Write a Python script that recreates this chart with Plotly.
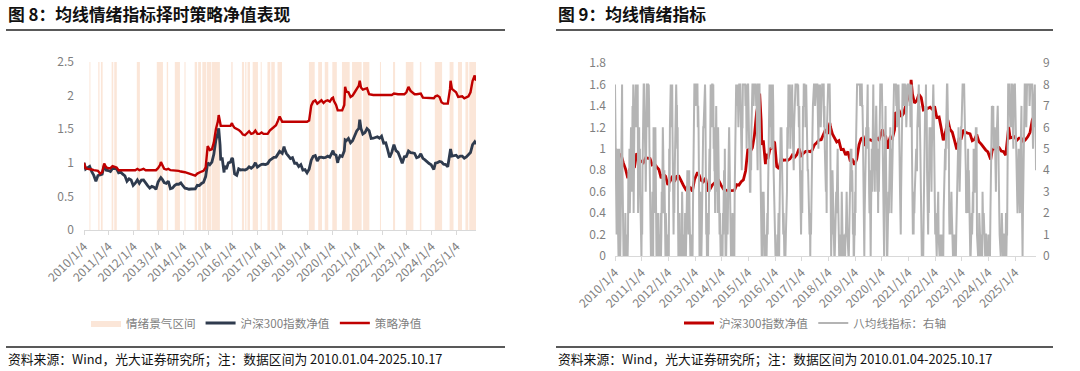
import plotly.graph_objects as go

W, H = 1080, 371
FONT = "Noto Sans CJK SC"
TICK_COLOR = "#7F7F7F"

# ---------------- Data: left chart (monthly readings) ----------------
nav_dates = [
    "2010-01-04", "2010-01-28", "2010-02-28", "2010-03-28", "2010-04-28", "2010-05-28", "2010-06-28",
    "2010-07-28", "2010-08-28", "2010-09-28", "2010-10-28", "2010-11-28", "2010-12-28",
    "2011-01-28", "2011-02-28", "2011-03-28", "2011-04-28", "2011-05-28", "2011-06-28",
    "2011-07-28", "2011-08-28", "2011-09-28", "2011-10-28", "2011-11-28", "2011-12-28",
    "2012-01-28", "2012-02-28", "2012-03-28", "2012-04-28", "2012-05-28", "2012-06-28",
    "2012-07-28", "2012-08-28", "2012-09-28", "2012-10-28", "2012-11-28", "2012-12-28",
    "2013-01-28", "2013-02-08", "2013-02-28", "2013-03-28", "2013-04-28", "2013-05-28", "2013-06-28",
    "2013-07-28", "2013-08-28", "2013-09-28", "2013-10-28", "2013-11-28", "2013-12-28",
    "2014-01-28", "2014-02-28", "2014-03-28", "2014-04-28", "2014-05-28", "2014-06-28",
    "2014-07-28", "2014-08-28", "2014-09-28", "2014-10-28", "2014-11-28", "2014-12-28",
    "2015-01-28", "2015-02-28", "2015-03-28", "2015-04-28", "2015-05-28", "2015-06-08", "2015-06-28",
    "2015-07-08", "2015-07-28", "2015-08-26", "2015-08-31", "2015-09-28", "2015-10-28", "2015-11-28",
    "2015-12-20", "2015-12-31",
    "2016-01-28", "2016-02-28", "2016-03-28", "2016-04-28", "2016-05-28", "2016-06-28",
    "2016-07-28", "2016-08-28", "2016-09-28", "2016-10-28", "2016-11-28", "2016-12-28",
    "2017-01-28", "2017-02-28", "2017-03-28", "2017-04-28", "2017-05-28", "2017-06-28",
    "2017-07-28", "2017-08-28", "2017-09-28", "2017-10-28", "2017-11-20", "2017-12-28",
    "2018-01-24", "2018-01-31", "2018-02-28", "2018-03-28", "2018-04-28", "2018-05-28", "2018-06-28",
    "2018-07-28", "2018-08-28", "2018-09-28", "2018-10-28", "2018-11-28", "2018-12-28",
    "2019-01-28", "2019-02-28", "2019-03-28", "2019-04-28", "2019-05-28", "2019-06-28",
    "2019-07-28", "2019-08-28", "2019-09-28", "2019-10-28", "2019-11-28", "2019-12-28",
    "2020-01-14", "2020-01-28", "2020-02-28", "2020-03-23", "2020-03-31", "2020-04-28", "2020-05-28",
    "2020-06-28", "2020-07-10", "2020-07-28", "2020-08-28", "2020-09-28", "2020-10-28", "2020-11-28",
    "2020-12-28",
    "2021-01-28", "2021-02-10", "2021-02-28", "2021-03-28", "2021-04-28", "2021-05-28", "2021-06-28",
    "2021-07-28", "2021-08-28", "2021-09-28", "2021-10-28", "2021-11-28", "2021-12-28",
    "2022-01-28", "2022-02-28", "2022-03-28", "2022-04-26", "2022-05-28", "2022-06-28",
    "2022-07-28", "2022-08-28", "2022-09-28", "2022-10-28", "2022-11-28", "2022-12-28",
    "2023-01-28", "2023-02-28", "2023-03-28", "2023-04-28", "2023-05-28", "2023-06-28",
    "2023-07-28", "2023-08-28", "2023-09-28", "2023-10-28", "2023-11-28", "2023-12-28",
    "2024-01-28", "2024-02-05", "2024-02-28", "2024-03-28", "2024-04-28", "2024-05-28", "2024-06-28",
    "2024-07-28", "2024-08-28", "2024-09-30", "2024-10-08", "2024-10-28", "2024-11-28", "2024-12-28",
    "2025-01-28", "2025-02-28", "2025-03-28", "2025-04-28", "2025-05-28", "2025-06-28",
    "2025-07-28", "2025-08-28", "2025-09-28", "2025-10-17",
]

hs300_nav = [
    1.000, 0.906, 0.928, 0.946, 0.868, 0.812, 0.725, 0.811, 0.821, 0.830, 0.958, 0.889, 0.885,
    0.870, 0.916, 0.912, 0.909, 0.851, 0.861, 0.831, 0.807, 0.725, 0.762, 0.743, 0.664,
    0.697, 0.745, 0.694, 0.743, 0.745, 0.696, 0.660, 0.623, 0.649, 0.638, 0.605, 0.714,
    0.760, 0.780, 0.756, 0.706, 0.693, 0.728, 0.614, 0.623, 0.661, 0.682, 0.681, 0.700, 0.659,
    0.623, 0.616, 0.607, 0.610, 0.611, 0.612, 0.665, 0.661, 0.693, 0.710, 0.795, 0.999,
    0.971, 1.010, 1.126, 1.343, 1.449, 1.514, 1.265, 1.036, 1.079, 0.856, 0.952, 0.906, 0.999, 1.009,
    1.070, 1.055,
    0.833, 0.814, 0.910, 0.893, 0.897, 0.892, 0.906, 0.941, 0.920, 0.944, 1.001, 0.936,
    0.958, 0.976, 0.978, 0.973, 0.988, 1.037, 1.057, 1.081, 1.085, 1.133, 1.170, 1.140,
    1.242, 1.209, 1.138, 1.103, 1.063, 1.076, 0.993, 0.995, 0.943, 0.973, 0.892, 0.898, 0.852,
    0.906, 1.038, 1.095, 1.107, 1.027, 1.082, 1.085, 1.075, 1.079, 1.099, 1.083, 1.159,
    1.180, 1.131, 1.115, 0.999, 1.043, 1.107, 1.094, 1.178, 1.340, 1.328, 1.363, 1.298, 1.328, 1.403,
    1.474,
    1.514, 1.643, 1.510, 1.428, 1.449, 1.508, 1.478, 1.361, 1.366, 1.377, 1.388, 1.367, 1.397,
    1.291, 1.296, 1.195, 1.079, 1.157, 1.269, 1.180, 1.154, 1.076, 0.993, 1.090, 1.095,
    1.176, 1.152, 1.146, 1.140, 1.075, 1.087, 1.133, 1.065, 1.044, 1.011, 0.989, 0.971,
    0.910, 0.900, 0.995, 1.001, 1.020, 1.013, 0.979, 0.974, 0.940, 1.137, 1.204, 1.101, 1.108, 1.113,
    1.080, 1.100, 1.100, 1.067, 1.086, 1.114, 1.153, 1.272, 1.313, 1.277,
]

strategy_nav = [
    1.000, 0.92, 0.91, 0.91, 0.90, 0.89, 0.89, 0.88, 0.84, 0.86, 0.99, 0.93, 0.92,
    0.92, 0.95, 0.94, 0.93, 0.89, 0.89, 0.89, 0.89, 0.89, 0.89, 0.89, 0.89,
    0.89, 0.91, 0.89, 0.90, 0.91, 0.89, 0.89, 0.89, 0.89, 0.89, 0.89, 0.92,
    0.97, 1.01, 0.97, 0.91, 0.90, 0.91, 0.89, 0.89, 0.89, 0.88, 0.88, 0.87, 0.87,
    0.86, 0.85, 0.84, 0.84, 0.83, 0.81, 0.84, 0.86, 0.87, 0.88, 0.93, 1.25,
    1.19, 1.20, 1.30, 1.50, 1.62, 1.71, 1.55, 1.55, 1.55, 1.55, 1.55, 1.55, 1.55, 1.55,
    1.59, 1.56,
    1.52, 1.51, 1.49, 1.46, 1.42, 1.41, 1.44, 1.47, 1.43, 1.44, 1.48, 1.43,
    1.43, 1.45, 1.43, 1.43, 1.43, 1.48, 1.51, 1.53, 1.56, 1.63, 1.69, 1.61,
    1.61, 1.61, 1.61, 1.61, 1.61, 1.61, 1.61, 1.61, 1.61, 1.61, 1.61, 1.61, 1.61,
    1.63, 1.85, 1.91, 1.93, 1.88, 1.90, 1.93, 1.89, 1.92, 1.93, 1.91, 1.96,
    1.97, 1.92, 1.86, 1.78, 1.78, 1.78, 1.78, 1.86, 2.13, 2.06, 2.05, 1.98, 2.00, 2.05,
    2.10,
    2.15, 2.22, 2.12, 2.09, 2.10, 2.11, 2.02, 2.01, 2.01, 2.01, 2.01, 2.01, 2.02,
    2.01, 2.01, 2.01, 2.01, 2.01, 2.03, 2.02, 2.02, 2.02, 2.02, 2.02, 2.05,
    2.13, 2.07, 2.04, 2.02, 2.02, 2.02, 2.03, 1.97, 1.97, 1.97, 1.97, 1.97,
    1.97, 1.96, 1.99, 2.00, 1.98, 1.90, 1.88, 1.88, 1.88, 2.10, 2.22, 2.10, 2.08, 2.05,
    1.98, 1.99, 1.99, 1.96, 1.97, 1.99, 2.05, 2.22, 2.30, 2.22,
]

# 情绪景气区间 (start, end)
band_starts = [
    "2010-01-04", "2010-03-25", "2010-08-02", "2010-09-10", "2010-11-15", "2011-02-15", "2011-03-25",
    "2011-07-10", "2012-02-20", "2012-05-10", "2012-12-10", "2013-05-05", "2013-09-01", "2014-01-20",
    "2014-06-20", "2014-08-10", "2014-10-10", "2014-12-15", "2015-03-01", "2015-12-10", "2016-05-15",
    "2016-07-01", "2016-08-05", "2016-10-20", "2017-02-15", "2017-05-25", "2017-07-20", "2017-10-20",
    "2018-03-10", "2019-01-25", "2019-06-10", "2019-09-15", "2020-01-04", "2020-05-25", "2020-10-20",
    "2021-04-01", "2021-12-05", "2022-06-15", "2022-12-20", "2023-07-15", "2024-02-20", "2024-09-24",
    "2025-01-25", "2025-05-15", "2025-07-10",
]
band_ends = [
    "2010-01-15", "2010-04-08", "2010-08-20", "2010-10-05", "2010-11-25", "2011-03-10", "2011-05-01",
    "2011-07-20", "2012-04-05", "2012-05-20", "2013-03-10", "2013-05-25", "2013-11-15", "2014-02-05",
    "2014-07-25", "2014-09-20", "2014-12-05", "2015-02-20", "2015-06-25", "2015-12-30", "2016-06-15",
    "2016-07-20", "2016-09-10", "2017-01-05", "2017-03-01", "2017-07-05", "2017-09-10", "2017-12-25",
    "2018-03-20", "2019-04-20", "2019-08-05", "2019-11-05", "2020-03-10", "2020-09-15", "2021-03-10",
    "2021-07-01", "2021-12-20", "2022-07-15", "2023-04-10", "2023-08-05", "2024-06-05", "2024-11-20",
    "2025-03-25", "2025-06-25", "2025-10-17",
]

# ---------------- Data: right chart indicator (6 readings per month, 0-8) ----------------
ind_2010 = [8,7,4,1,2,1, 3,5,2,1,0,1, 5,2,4,0,1,3, 8,7,8,4,1,2, 0,0,1,0,0,2, 0,1,0,0,0,0,
            1,4,2,3,5,2, 6,4,6,5,3,4, 7,6,8,2,4,6, 7,8,8,8,6,7, 8,7,8,2,4,3, 6,3,5,3,2,0]
ind_2011 = [0,2,1,4,6,5, 8,8,7,8,6,4, 3,6,4,8,8,8, 8,6,8,7,5,3, 2,1,0,2,0,0, 3,1,0,6,4,2,
            5,3,6,1,2,0, 0,0,1,2,1,0, 0,1,0,0,2,0, 1,3,2,4,6,5, 3,2,4,0,1,0, 2,0,1,0,1,0]
ind_2012 = [0,1,0,5,3,6, 7,8,6,8,7,8, 6,4,5,1,3,2, 4,6,5,8,8,7, 7,5,6,2,0,1, 0,2,0,1,0,0,
            0,1,3,2,0,0, 0,0,1,0,2,1, 0,1,3,2,4,2, 2,1,3,4,2,0, 0,0,1,0,1,0, 0,2,4,6,7,8]
ind_2013 = [8,8,7,8,8,8, 8,8,6,7,6,4, 1,0,2,3,2,0, 0,1,3,2,4,6, 6,7,8,8,8,7, 3,1,2,0,0,0,
            0,2,1,4,5,3, 6,8,7,7,6,8, 8,7,8,5,6,4, 4,2,3,6,7,5, 3,5,2,6,4,3, 2,1,2,0,0,1]
ind_2014 = [0,0,1,0,2,1, 3,4,2,5,2,0, 0,0,1,2,3,1, 4,2,5,6,5,3, 1,2,0,1,0,0, 2,1,0,0,1,0,
            3,5,4,6,8,7, 8,7,8,7,6,8, 8,8,8,8,7,6, 5,4,6,6,8,8, 8,8,8,8,8,7, 8,7,5,8,8,8]
ind_2015 = [8,6,7,5,4,3, 3,5,4,6,8,7, 8,8,8,7,8,8, 8,8,8,8,7,8, 6,5,4,8,8,8, 8,8,6,4,2,0,
            0,0,1,0,3,2, 3,1,2,0,0,0, 0,1,0,1,2,1, 3,5,6,6,8,7, 8,6,7,5,7,8, 6,8,7,4,3,2]
ind_2016 = [2,0,0,0,0,0, 0,1,0,1,2,1, 0,2,3,4,6,5, 6,4,6,3,2,1, 2,1,0,0,1,0, 1,2,1,3,6,5,
            6,8,7,7,6,8, 5,7,6,8,8,8, 6,5,6,4,6,7, 7,8,8,8,8,8, 8,8,7,8,7,6, 7,5,3,2,3,1]
ind_2017 = [3,4,2,6,7,6, 8,8,8,7,7,8, 6,8,7,5,6,4, 4,3,4,2,1,2, 0,2,1,3,5,4, 6,7,8,8,8,8,
            8,7,8,7,8,8, 8,8,7,6,5,7, 8,7,8,7,6,7, 8,8,8,8,8,8, 8,6,7,5,3,4, 3,4,2,6,7,8]
ind_2018 = [8,8,8,8,8,7, 3,1,0,1,2,1, 4,3,4,2,1,0, 0,1,0,2,3,2, 5,4,5,3,1,2, 0,0,0,0,1,0,
            1,3,2,2,0,1, 0,0,1,0,0,1, 1,2,3,2,1,0, 0,0,0,1,2,1, 4,5,4,5,3,4, 3,1,2,0,0,1]
ind_2019 = [1,3,2,5,7,6, 8,8,8,8,8,8, 8,8,8,7,8,7, 8,8,7,7,6,4, 0,1,0,2,3,2, 4,6,5,7,8,8,
            5,6,5,3,2,4, 1,0,2,4,5,3, 8,7,8,6,5,6, 3,5,4,6,7,6, 4,3,5,2,4,3, 5,7,6,8,8,8]
ind_2020 = [8,8,7,6,5,3, 1,0,3,7,6,7, 5,2,3,0,0,1, 1,3,2,4,6,5, 6,4,5,2,3,4, 5,7,6,8,8,8,
            8,8,8,8,7,8, 6,7,6,8,8,7, 3,4,3,2,1,3, 5,7,8,8,8,7, 8,8,8,8,7,8, 7,6,7,8,8,8]
ind_2021 = [8,8,8,8,7,8, 6,8,8,8,5,3, 1,1,2,1,3,2, 3,4,3,5,5,4, 4,6,7,8,8,8, 6,7,6,5,3,2,
            1,0,0,0,1,0, 2,4,3,5,7,6, 8,6,7,4,3,4, 1,3,2,5,6,5, 6,4,5,3,5,6, 8,8,8,7,5,4]
ind_2022 = [2,1,2,0,0,0, 1,2,1,3,1,0, 0,0,1,0,1,0, 1,0,0,1,0,0, 2,3,2,3,5,4, 6,8,8,8,8,7,
            7,5,6,2,1,2, 1,3,2,3,2,1, 0,0,1,0,0,0, 1,0,0,0,1,2, 4,5,4,6,6,5, 5,3,4,3,4,6]
ind_2023 = [6,8,7,8,8,8, 8,8,7,6,5,6, 4,2,3,3,4,2, 5,3,4,2,1,0, 0,0,1,1,2,1, 2,3,2,5,4,3,
            3,5,4,6,5,6, 1,0,1,0,0,0, 2,1,2,1,0,1, 0,1,0,3,2,1, 2,1,2,0,0,1, 1,0,1,0,0,0]
ind_2024 = [0,0,1,0,0,0, 2,4,5,6,7,6, 7,6,7,5,6,5, 6,4,5,3,5,6, 7,6,7,6,3,2, 2,1,0,0,0,1,
            1,2,1,0,0,1, 1,0,0,0,1,0, 2,0,1,1,5,8, 8,8,8,8,7,6, 6,7,6,8,8,7, 5,6,5,8,7,8]
ind_2025 = [8,7,8,6,4,3, 3,2,3,5,5,4, 2,3,2,4,6,5, 7,3,2,0,2,4, 6,7,6,8,8,8, 7,6,7,8,8,8,
            8,8,8,8,7,8, 8,8,8,8,8,8, 6,5,6,7,8,7, 8,6,7,4]
ind_years = [2010 + i for i in range(16)]
ind_values_by_year = [ind_2010, ind_2011, ind_2012, ind_2013, ind_2014, ind_2015, ind_2016, ind_2017,
                      ind_2018, ind_2019, ind_2020, ind_2021, ind_2022, ind_2023, ind_2024, ind_2025]

year_ticks = [f"{y}-01-04" for y in range(2010, 2026)]
year_ticktext = [f"{y}/1/4" for y in range(2010, 2026)]

LEFT_YMAX = 2.5

# ---------------- Build series ----------------
ind_dates, ind_vals = [], []
for yr, vals in zip(ind_years, ind_values_by_year):
    k = 0
    for m in range(1, 13):
        for d in (1, 6, 11, 16, 21, 26):
            if k < len(vals):
                ind_dates.append(f"{yr}-{m:02d}-{d:02d}")
                ind_vals.append(vals[k])
                k += 1
ind_dates[0] = "2010-01-04"
ind_dates[-1] = "2025-10-17"

band_x, band_y = [], []
for s, e in zip(band_starts, band_ends):
    band_x += [s, s, e, e, s, None]
    band_y += [0, LEFT_YMAX, LEFT_YMAX, 0, 0, None]

BAND_COLOR = "rgba(247,205,178,0.5)"

fig = go.Figure()

fig.add_trace(go.Scatter(
    x=band_x, y=band_y, mode="lines", fill="toself", fillcolor=BAND_COLOR,
    line=dict(width=0, color=BAND_COLOR), name="情绪景气区间",
    xaxis="x", yaxis="y", legend="legend", hoverinfo="skip"))
fig.add_trace(go.Scatter(
    x=nav_dates, y=hs300_nav, mode="lines", line=dict(color="#2F3B4E", width=2.8),
    name="沪深300指数净值", xaxis="x", yaxis="y", legend="legend"))
fig.add_trace(go.Scatter(
    x=nav_dates, y=strategy_nav, mode="lines", line=dict(color="#C00000", width=2.4),
    name="策略净值", xaxis="x", yaxis="y", legend="legend"))

# right chart: red index on base left axis (y2), gray indicator on overlaying right axis (y3, drawn on top)
fig.add_trace(go.Scatter(
    x=nav_dates, y=hs300_nav, mode="lines", line=dict(color="#C00000", width=2.8),
    name="沪深300指数净值", xaxis="x2", yaxis="y2", legend="legend2"))
fig.add_trace(go.Scatter(
    x=ind_dates, y=ind_vals, mode="lines", line=dict(color="#B4B4B4", width=2),
    name="八均线指标：右轴", xaxis="x2", yaxis="y3", legend="legend2"))

def px_x(p):
    return p / W

def px_y(p):
    return 1 - p / H

tickfont = dict(family=FONT, size=12, color=TICK_COLOR)
xcommon = dict(type="date", tickmode="array", tickvals=year_ticks, ticktext=year_ticktext,
               tickangle=-45, tickfont=tickfont, showgrid=False, showline=True,
               linecolor="#D9D9D9", linewidth=1, ticks="outside", tickcolor="#D9D9D9",
               ticklen=4, zeroline=False, range=["2010-01-04", "2025-10-17"], automargin=False)
legfont = dict(family=FONT, size=11.6, color=TICK_COLOR)

fig.update_layout(
    template="none",
    width=W, height=H, margin=dict(l=0, r=0, t=0, b=0, pad=0), autosize=False,
    paper_bgcolor="white", plot_bgcolor="white",
    font=dict(family=FONT, color=TICK_COLOR),
    xaxis=dict(domain=[px_x(84), px_x(476)], anchor="y", **xcommon),
    yaxis=dict(domain=[px_y(230), px_y(62)], range=[0, LEFT_YMAX], tickvals=[0, 0.5, 1, 1.5, 2, 2.5],
               ticktext=["0", "0.5", "1", "1.5", "2", "2.5"], tickfont=tickfont,
               showgrid=False, showline=False, zeroline=False, ticks="", ticklabelstandoff=9,
               automargin=False),
    xaxis2=dict(domain=[px_x(615), px_x(1036)], anchor="y2", **xcommon),
    yaxis2=dict(domain=[px_y(256), px_y(63)], range=[0, 1.8], tickvals=[0, 0.2, 0.4, 0.6, 0.8, 1, 1.2, 1.4, 1.6, 1.8],
                ticktext=["0", "0.2", "0.4", "0.6", "0.8", "1", "1.2", "1.4", "1.6", "1.8"],
                tickfont=tickfont, showgrid=False, showline=False, zeroline=False, ticks="",
                ticklabelstandoff=8, anchor="x2", automargin=False),
    yaxis3=dict(overlaying="y2", side="right", range=[0, 9], tickvals=list(range(10)),
                tickfont=tickfont, showgrid=False, showline=False, zeroline=False, ticks="",
                anchor="x2", ticklabelstandoff=6, automargin=False),
    legend=dict(orientation="h", x=px_x(86), y=px_y(323), xanchor="left", yanchor="middle",
                font=legfont, bgcolor="rgba(0,0,0,0)", itemwidth=30, tracegroupgap=0),
    legend2=dict(orientation="h", x=px_x(679), y=px_y(323), xanchor="left", yanchor="middle",
                 font=legfont, bgcolor="rgba(0,0,0,0)", itemwidth=30),
    showlegend=True,
)

shapes = []
for x0, x1 in ((6, 505), (556, 1053)):
    shapes.append(dict(type="line", xref="paper", yref="paper", x0=px_x(x0), x1=px_x(x1),
                       y0=px_y(30), y1=px_y(30), line=dict(color="#222222", width=1.3)))
    shapes.append(dict(type="line", xref="paper", yref="paper", x0=px_x(x0), x1=px_x(x1),
                       y0=px_y(347), y1=px_y(347), line=dict(color="#222222", width=1.3)))
fig.update_layout(shapes=shapes)

annotations = [
    dict(text="<b>图 8：均线情绪指标择时策略净值表现</b>", x=px_x(6), y=px_y(14)),
    dict(text="<b>图 9：均线情绪指标</b>", x=px_x(556), y=px_y(14)),
]
for a in annotations:
    a.update(xref="paper", yref="paper", xanchor="left", yanchor="middle", showarrow=False,
             font=dict(family=FONT, size=16.8, color="#111111"))
src = "资料来源：Wind，光大证券研究所；注：数据区间为 2010.01.04-2025.10.17"
for x0 in (6, 556):
    annotations.append(dict(text=src, x=px_x(x0), y=px_y(358), xref="paper", yref="paper",
                            xanchor="left", yanchor="middle", showarrow=False,
                            font=dict(family=FONT, size=12.8, color="#111111")))
fig.update_layout(annotations=annotations)

fig.write_html("out.html", config={"displayModeBar": False},
               post_script="document.body.style.margin='0';document.body.style.overflow='hidden';")
